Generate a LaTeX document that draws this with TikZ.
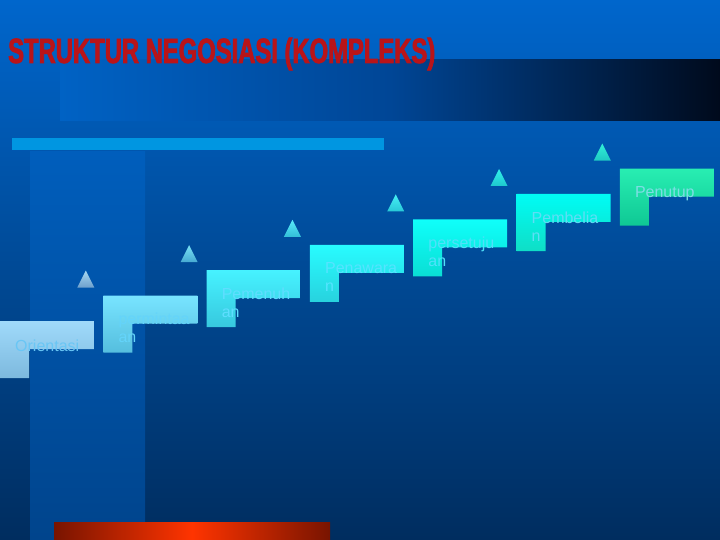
\documentclass[tikz,border=0pt]{standalone}
\usepackage{fontspec}
\setmainfont{Liberation Sans}
\newfontfamily\titlefont[FakeStretch=0.68,FakeBold=2.2]{Liberation Sans Bold}
\definecolor{bgtop}{RGB}{0,102,204}
\definecolor{bgbot}{RGB}{0,45,95}
\definecolor{coltop}{RGB}{0,94,188}
\definecolor{colbot}{RGB}{0,68,140}
\definecolor{bandl}{RGB}{0,98,196}
\definecolor{bandm}{RGB}{0,70,150}
\definecolor{bandr}{RGB}{0,10,28}
\definecolor{lightbar}{RGB}{0,150,225}
\definecolor{reddark}{RGB}{120,20,0}
\definecolor{redbright}{RGB}{255,52,0}
\definecolor{titlered}{RGB}{185,20,25}
% step colours
\definecolor{s0a}{RGB}{160,218,250}\definecolor{s0b}{RGB}{125,185,222}\definecolor{s0t}{RGB}{105,198,245}
\definecolor{s1a}{RGB}{120,228,255}\definecolor{s1b}{RGB}{85,190,222}\definecolor{s1t}{RGB}{100,212,250}
\definecolor{s2a}{RGB}{70,242,255}\definecolor{s2b}{RGB}{55,200,222}\definecolor{s2t}{RGB}{95,222,255}
\definecolor{s3a}{RGB}{40,252,255}\definecolor{s3b}{RGB}{40,210,222}\definecolor{s3t}{RGB}{85,228,255}
\definecolor{s4a}{RGB}{15,255,250}\definecolor{s4b}{RGB}{10,222,212}\definecolor{s4t}{RGB}{80,225,250}
\definecolor{s5a}{RGB}{0,252,245}\definecolor{s5b}{RGB}{15,222,198}\definecolor{s5t}{RGB}{95,222,245}
\definecolor{s6a}{RGB}{40,238,178}\definecolor{s6b}{RGB}{15,200,148}\definecolor{s6t}{RGB}{125,222,228}
% triangle colours
\definecolor{r1a}{RGB}{165,215,240}\definecolor{r1b}{RGB}{110,160,205}
\definecolor{r2a}{RGB}{120,225,245}\definecolor{r2b}{RGB}{70,170,210}
\definecolor{r3a}{RGB}{90,235,250}\definecolor{r3b}{RGB}{50,190,215}
\definecolor{r4a}{RGB}{70,240,245}\definecolor{r4b}{RGB}{40,200,215}
\definecolor{r5a}{RGB}{50,240,235}\definecolor{r5b}{RGB}{30,200,205}
\definecolor{r6a}{RGB}{50,240,215}\definecolor{r6b}{RGB}{30,200,195}
\tikzset{
  steptext/.style={anchor=base west,inner sep=0pt,font=\fontsize{16}{18}\selectfont},
}
\begin{document}
\begin{tikzpicture}[x=1pt,y=-1pt]
\useasboundingbox (0,0) rectangle (720,540);
% background
\shade[top color=bgtop,bottom color=bgbot] (0,0) rectangle (720,540);
\shade[top color=coltop,bottom color=colbot] (30,152) rectangle (145,540);
\shade[left color=bandl,right color=bandr,middle color=bandm] (60,60) rectangle (720,121);
\fill[lightbar] (12,138) rectangle (384,150);
\shade[left color=reddark,right color=reddark,middle color=redbright] (54,522) rectangle (330,540);
% title
\node[anchor=base west,inner sep=0pt,text=titlered,font=\titlefont\fontsize{35}{40}\selectfont] (title) at (8,63) {STRUKTUR NEGOSIASI (KOMPLEKS)};
% steps
\foreach \i/\la/\lb in {0/Orientasi/{},1/permintaa/an,2/Pemenuh/an,3/Penawara/n,4/persetuju/an,5/Pembelia/n,6/Penutup/{}}{
  \begin{scope}[shift={(103.3*\i,321-25.4*\i)}]
    \shade[top color=s\i a,bottom color=s\i b] (0,0) -- (94,0) -- (94,28) -- (29,28) -- (29,57) -- (0,57) -- cycle;
    \ifnum\i=0
      \node[steptext,text=s\i t] (la\i) at (15,30) {\la};
    \else
      \node[steptext,text=s\i t] (la\i) at (15,29) {\la};
      \node[steptext,text=s\i t] (lb\i) at (15,47) {\lb};
      \shade[top color=r\i a,bottom color=r\i b] (-26,-8) -- (-9,-8) -- (-17.5,-25) -- cycle;
    \fi
  \end{scope}
}
\end{tikzpicture}
\end{document}
